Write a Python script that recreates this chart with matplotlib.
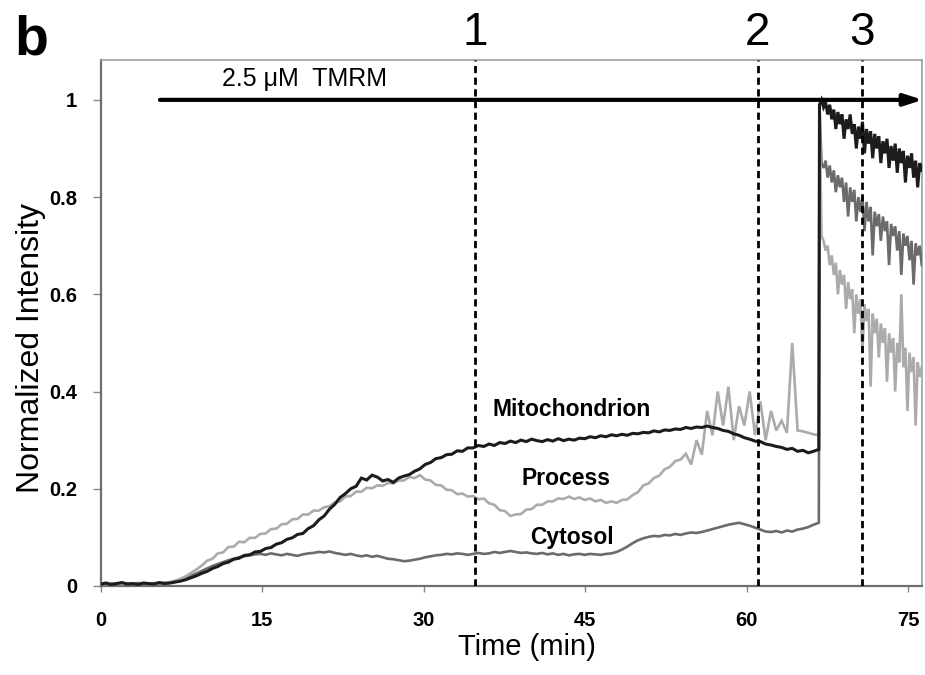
import numpy as np
import matplotlib
matplotlib.use("Agg")
import matplotlib.pyplot as plt
from matplotlib.transforms import blended_transform_factory

# ---- recorded traces -------------------------------------------------------
# loading phase, sampled every 0.494 min from t = 0
dt_load = 0.494
mito_load = [
    .004, .006, .003, .005, .007, .004, .005, .003, .006, .005,
    .004, .007, .005, .006, .008, .010, .013, .017, .021, .026,
    .030, .036, .040, .046, .049, .055, .057, .063, .064, .070,
    .071, .077, .079, .086, .089, .096, .099, .106, .108, .118,
    .124, .136, .144, .158, .168, .182, .190, .200, .205, .222,
    .218, .228, .224, .216, .219, .213, .222, .226, .229, .236,
    .241, .250, .254, .262, .264, .270, .271, .278, .277, .284,
    .284, .289, .287, .292, .289, .295, .293, .298, .295, .300,
    .297, .302, .299, .297, .301, .298, .303, .299, .302, .300,
    .304, .303, .307, .305, .309, .307, .311, .309, .312, .310,
    .314, .313, .316, .315, .319, .317, .321, .320, .323, .322,
    .326, .324, .327, .326, .329, .326, .324, .320, .318, .313,
    .310, .305, .302, .298, .297, .292, .290, .287, .285, .281,
    .283, .277, .279, .274, .277, .281,
]
process_load = [
    .005, .004, .006, .005, .004, .006, .005, .004, .006, .005,
    .005, .006, .007, .008, .011, .015, .020, .027, .034, .042,
    .052, .056, .067, .069, .080, .081, .091, .090, .099, .099,
    .107, .108, .117, .118, .127, .128, .137, .138, .147, .147,
    .155, .155, .162, .164, .172, .174, .184, .185, .194, .194,
    .202, .201, .207, .206, .212, .211, .217, .217, .224, .222,
    .228, .219, .217, .208, .207, .198, .197, .189, .190, .184,
    .185, .178, .180, .170, .167, .156, .154, .144, .147, .148,
    .157, .158, .167, .167, .174, .174, .180, .179, .184, .179,
    .182, .177, .180, .174, .177, .171, .174, .171, .177, .178,
    .187, .193, .207, .211, .222, .227, .240, .245, .257, .260,
    .272, .250, .300, .270, .360, .310, .400, .330, .410, .300,
    .370, .330, .400, .310, .380, .300, .360, .320, .340, .315,
    .500, .320, .318, .315, .312, .310,
]
cytosol_load = [
    .005, .006, .004, .005, .006, .004, .005, .006, .005, .004,
    .006, .005, .006, .007, .009, .012, .016, .021, .026, .031,
    .036, .041, .045, .049, .053, .056, .059, .061, .063, .065,
    .066, .064, .067, .065, .063, .066, .064, .062, .065, .067,
    .068, .070, .069, .071, .068, .066, .064, .066, .063, .061,
    .063, .060, .062, .059, .056, .055, .053, .051, .052, .054,
    .056, .059, .061, .063, .064, .066, .065, .067, .066, .064,
    .066, .068, .066, .067, .070, .068, .070, .072, .070, .068,
    .069, .067, .066, .068, .065, .067, .064, .066, .063, .065,
    .066, .064, .066, .065, .064, .066, .067, .070, .075, .081,
    .088, .094, .098, .101, .103, .102, .105, .104, .107, .105,
    .108, .110, .109, .111, .114, .117, .120, .123, .126, .128,
    .130, .127, .124, .120, .116, .112, .111, .113, .110, .114,
    .112, .116, .118, .121, .126, .130,
]

# renormalised phase, sampled every 0.19 min from t = 66.75
t0_norm, dt_norm = 66.75, 0.19
mito_norm = [
    .99, 1.0, .985, .995, .97, .99, .96, .98, .94, .975,
    .95, .97, .92, .96, .94, .97, .93, .95, .90, .945,
    .92, .955, .89, .94, .91, .935, .88, .93, .90, .925,
    .87, .915, .89, .92, .86, .905, .875, .91, .85, .90,
    .87, .895, .83, .885, .86, .89, .84, .875, .82, .87, .855,
]
cytosol_norm = [
    .99, .87, .86, .875, .84, .865, .83, .855, .81, .845,
    .82, .84, .79, .83, .76, .82, .79, .815, .75, .80,
    .77, .80, .73, .79, .75, .78, .68, .77, .74, .765,
    .71, .76, .73, .75, .66, .745, .72, .74, .69, .73,
    .64, .725, .70, .72, .67, .71, .62, .705, .68, .70, .66,
]
process_norm = [
    .98, .72, .71, .69, .70, .66, .68, .64, .665, .60,
    .65, .62, .64, .57, .625, .59, .61, .52, .60, .56,
    .59, .48, .58, .545, .57, .41, .56, .52, .55, .47,
    .54, .50, .53, .42, .52, .48, .51, .40, .50, .46,
    .60, .45, .49, .36, .48, .44, .47, .33, .46, .43, .45,
]

events = ["1", "2", "3"]
event_times = [34.8, 61.0, 70.7]
x_ticks = [0, 15, 30, 45, 60, 75]
y_ticks = [0, 0.2, 0.4, 0.6, 0.8, 1.0]
y_tick_labels = ["0", "0.2", "0.4", "0.6", "0.8", "1"]
treatment = "2.5 \u03bcM  TMRM"
treatment_start = 5.5

font = "Liberation Sans"


def trace(load, norm):
    t_load = np.arange(len(load)) * dt_load
    t_norm = t0_norm + np.arange(len(norm)) * dt_norm
    return np.concatenate([t_load, t_norm]), np.concatenate([load, norm])


fig = plt.figure(figsize=(9.25, 6.75), dpi=100)
fig.patch.set_facecolor("white")
ax = fig.add_axes([0.1089, 0.1319, 0.8882, 0.7792])

series = [
    (cytosol_load, cytosol_norm, "#6b6b6b", 1.9),
    (process_load, process_norm, "#ababab", 1.9),
    (mito_load, mito_norm, "#1c1c1c", 2.2),
]
for load, norm, color, lw in series:
    tt, vv = trace(load, norm)
    ax.plot(tt, vv, color=color, lw=lw, solid_joinstyle="miter", zorder=3)

# event markers
for t in event_times:
    ax.axvline(t, color="black", lw=2.0, ls=(0, (2.6, 1.6)), zorder=4)
trans = blended_transform_factory(ax.transData, ax.transAxes)
for lab, t in zip(events, event_times):
    ax.text(t, 1.052, lab, transform=trans, ha="center", va="center",
            fontsize=33, family=font, clip_on=False)

# treatment arrow
ax.annotate("", xy=(76.35, 1.0), xytext=(treatment_start, 1.0),
            arrowprops=dict(arrowstyle="-|>,head_length=1.1,head_width=0.35",
                            lw=3.0, color="black", shrinkA=0, shrinkB=0),
            zorder=5, annotation_clip=False)
ax.text(11.3, 1.043, treatment, ha="left", va="center", fontsize=18, family=font)

# trace labels
ax.text(43.7, 0.362, "Mitochondrion", ha="center", va="center", fontsize=16.5,
        fontweight="bold", family=font)
ax.text(43.2, 0.222, "Process", ha="center", va="center", fontsize=16.5,
        fontweight="bold", family=font)
ax.text(43.8, 0.099, "Cytosol", ha="center", va="center", fontsize=16.5,
        fontweight="bold", family=font)

ax.set_xlim(0, 76.3)
ax.set_ylim(0, 1.082)
ax.set_xticks(x_ticks)
ax.set_xticklabels([str(v) for v in x_ticks])
ax.set_yticks(y_ticks)
ax.set_yticklabels(y_tick_labels)
for lbl in ax.get_xticklabels() + ax.get_yticklabels():
    lbl.set_family(font)
    lbl.set_fontweight("bold")
    lbl.set_fontsize(14.5)
ax.tick_params(axis="x", direction="out", length=4, width=1, color="#888888", pad=14)
ax.tick_params(axis="y", direction="out", length=6, width=1, color="#888888", pad=11)

for side in ["left", "bottom"]:
    ax.spines[side].set_color("#6f6f6f")
    ax.spines[side].set_linewidth(1.6)
for side in ["top", "right"]:
    ax.spines[side].set_color("#a0a0a0")
    ax.spines[side].set_linewidth(1.2)

ax.set_xlabel("Time (min)", fontsize=21, family=font)
ax.set_ylabel("Normalized Intensity", fontsize=23, family=font)
ax.xaxis.set_label_coords(0.5185, -0.09)
ax.yaxis.set_label_coords(-0.067, 0.452)

fig.text(0.016, 0.94, "b", fontsize=40, fontweight="bold", family=font,
         ha="left", va="center")

fig.savefig("out.png", dpi=100, facecolor="white")
